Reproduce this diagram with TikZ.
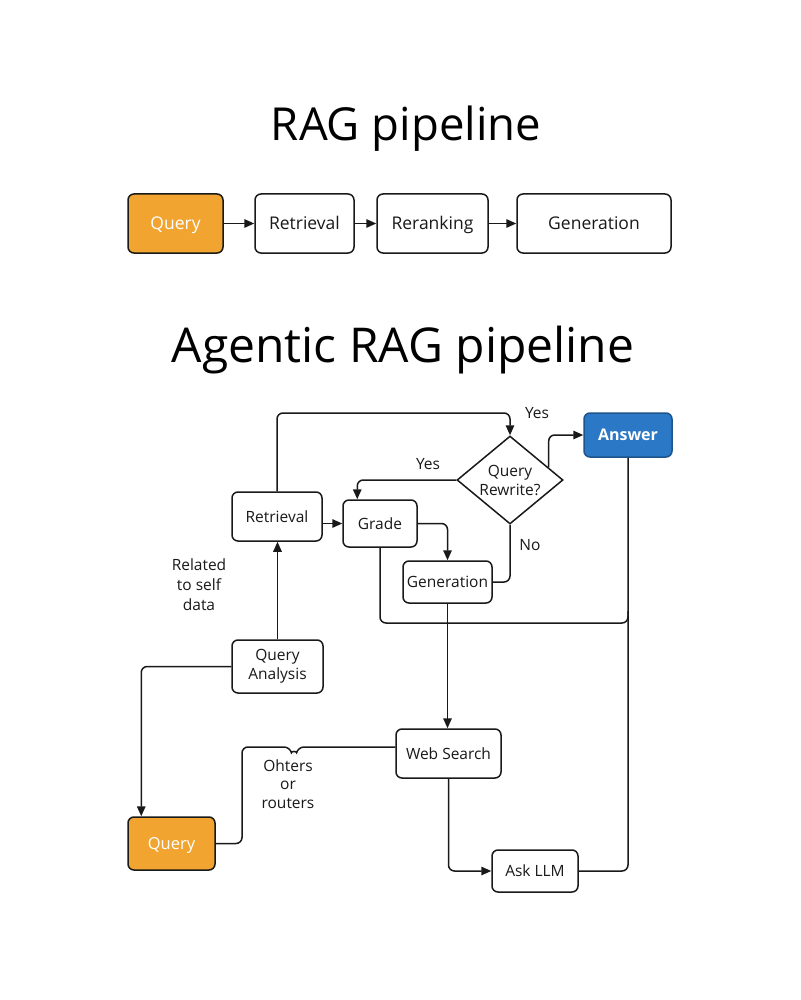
\documentclass[tikz,border=0pt]{standalone}
\usepackage{fontspec}
\setmainfont{Open Sans}
\usetikzlibrary{arrows.meta,shapes.geometric,calc}
\definecolor{qorange}{RGB}{242,164,48}
\definecolor{ablue}{RGB}{42,120,198}
\definecolor{ink}{RGB}{25,25,25}
\begin{document}
\begin{tikzpicture}[x=1pt,y=-1pt,
  box/.style={draw=ink, line width=1.5pt, rounded corners=6pt, fill=white, text=ink, align=center, inner sep=0pt, font=\fontsize{15.5}{19}\selectfont},
  one/.style={text height=#1, text depth=0pt},
  one/.default=11.2pt,
  topbox/.style={box, one=12.6pt, minimum height=59pt, font=\fontsize{17.5}{21}\selectfont},
  conn/.style={draw=ink, line width=1.5pt, rounded corners=6pt},
  arr/.style={conn, -{Triangle[length=10pt,width=8.5pt]}},
  lbl/.style={text=ink, align=center, font=\fontsize{15.5}{20}\selectfont},
  title/.style={text=black, anchor=base}]
\useasboundingbox[fill=white] (0,0) rectangle (800,1000);

% titles
\node[title, font=\fontsize{45.5}{54}\selectfont] (t1) at (406,141) {RAG pipeline};
\node[title, font=\fontsize{48}{56}\selectfont] (t2) at (403,362) {Agentic RAG pipeline};

% top row
\node[topbox, fill=qorange, text=white, minimum width=95pt] (q1) at (175.5,223.5) {Query};
\node[topbox, minimum width=99pt] (r1) at (304.5,223.5) {Retrieval};
\node[topbox, minimum width=111pt] (rr1) at (432.5,223.5) {Reranking};
\node[topbox, minimum width=154pt] (g1) at (594,223.5) {Generation};
\draw[arr] (q1.east) -- (r1.west);
\draw[arr] (r1.east) -- (rr1.west);
\draw[arr] (rr1.east) -- (g1.west);

% agentic nodes
\node[box, one, minimum width=90pt, minimum height=49pt] (ret) at (277,516.5) {Retrieval};
\node[box, one, minimum width=74pt, minimum height=47pt] (grade) at (380,523.5) {Grade};
\node[box, one, minimum width=89pt, minimum height=42pt] (gen) at (447.5,582) {Generation};
\node[diamond, draw=ink, line width=1.5pt, fill=white, inner sep=0pt, minimum width=106pt, minimum height=88pt,
  label={[lbl, font=\fontsize{15.5}{19}\selectfont]center:Query\\Rewrite?}] (dia) at (510,480) {};
\node[box, one=11.6pt, fill=ablue, draw=ablue!70!black, text=white, minimum width=88pt, minimum height=44pt, font=\bfseries\fontsize{16}{19}\selectfont] (ans) at (628,435) {Answer};
\node[box, minimum width=91pt, minimum height=53pt] (qa) at (277.5,666.5) {Query\\Analysis};
\node[box, one=11.9pt, fill=qorange, text=white, minimum width=87pt, minimum height=53pt, font=\fontsize{16.5}{20}\selectfont] (q2) at (171.5,843.5) {Query};
\node[box, one, minimum width=105pt, minimum height=49pt] (ws) at (448.5,753.5) {Web Search};
\node[box, one, minimum width=86pt, minimum height=42pt] (llm) at (535,871) {Ask LLM};

\coordinate (top) at (0,413);
\coordinate (bus) at (0,623);
\coordinate (hopR) at (298,747);
\coordinate (hopL) at (290,747);
\coordinate (bendWS) at (242,747);

% connectors
\draw[arr] (ret.north) -- (ret.north |- top) -- (dia.north |- top) -- (dia.north);
\draw[arr] (dia.west) -| ([xshift=15pt]grade.north west);
\draw[arr] ($(dia.north)!0.72!(dia.east)$) |- (ans.west);
\draw[arr] (ret.east |- grade.west) -- (grade.west);
\draw[arr] (grade.east) -| (gen.north);
\draw[conn] (dia.south) |- (gen.east);
\draw[conn] (grade.south) |- (ans.south |- bus) -- ([yshift=12pt]ans.south |- bus);
\draw[conn] (llm.east) -| (ans.south);
\draw[arr] (qa.north) -- (qa.north |- ret.south);
\draw[arr] (qa.west) -| ([xshift=14pt]q2.north west);
\draw[arr] (gen.south) -- (gen.south |- ws.north);
\draw[conn] ([yshift=6.5pt]ws.west) -- (hopR) .. controls (297,751) and (291,751) .. (hopL) -- (bendWS) |- (q2.east);
\draw[arr] (ws.south) |- (llm.west);

% labels
\node[lbl] (yes1) at (537,413) {Yes};
\node[lbl] (yes2) at (428,464) {Yes};
\node[lbl] (no1) at (530,545) {No};
\node[lbl] (rel) at (199,585) {Related\\to self\\data};
\node[lbl, font=\fontsize{15.5}{18.5}\selectfont] (oth) at (288,784) {Ohters\\or\\routers};
\end{tikzpicture}
\end{document}
